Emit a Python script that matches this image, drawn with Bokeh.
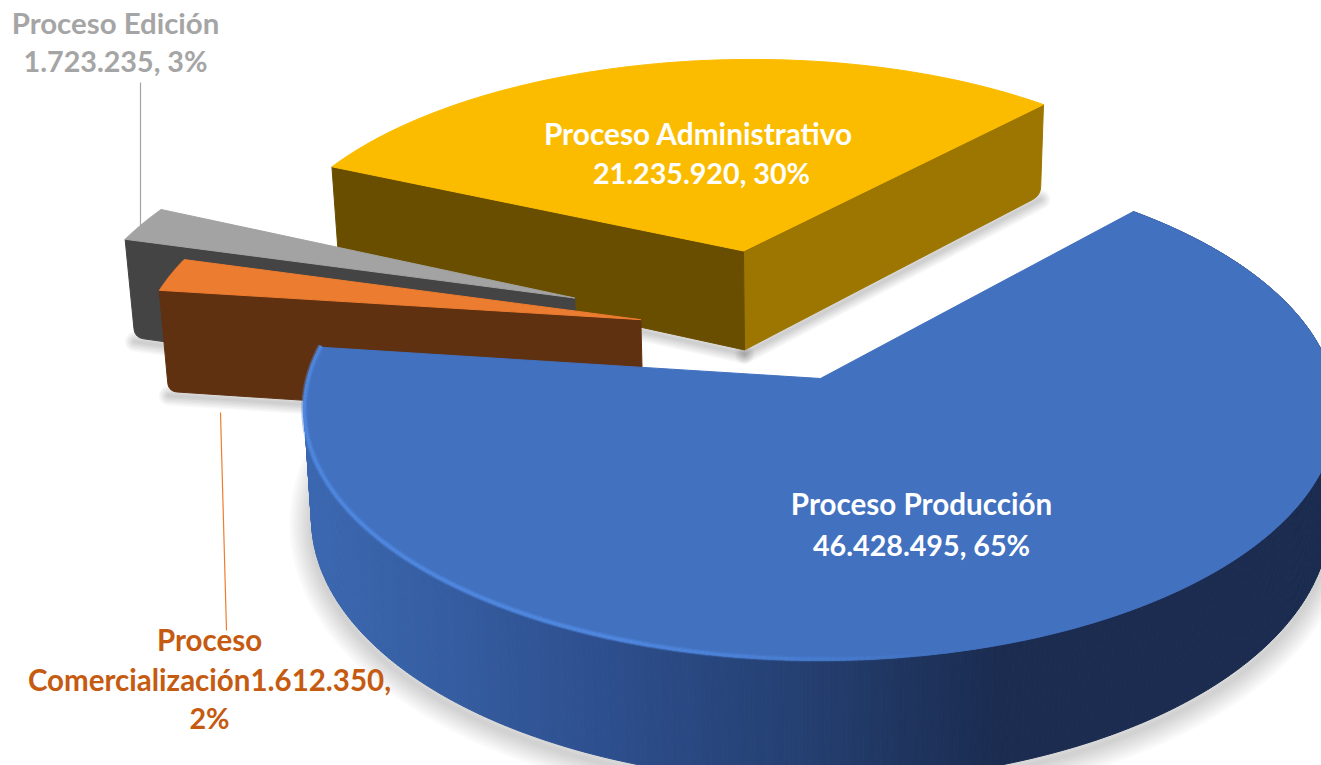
import numpy as np
from bokeh.plotting import figure
from bokeh.models import Range1d, ColumnDataSource
from bokeh.core.properties import value
from bokeh.embed import file_html
from bokeh.resources import INLINE

# ---- data -----------------------------------------------------------------
categories = ["Proceso Producción", "Proceso Comercialización", "Proceso Edición", "Proceso Administrativo"]
values = [46428495, 1612350, 1723235, 21235920]
percents = [65, 2, 3, 30]
explode = [0.221, 0.283, 0.443, 0.373]
top_colors = ["#4271C0", "#EC7C30", "#A3A3A3", "#FBBC00"]
wall_colors = ["#365FA3", "#5F3111", "#444444", "#6A4E00"]
start_deg = -48.0

# ---- projection of the pie disc to the page --------------------------------
CX, CY, R, RS, K, H = 820.0, 378.0, 512.0, 246.0, 0.128, 106.0
SHRINK = 0.986
BLUE_SHIFT = (0.008, -0.017)


def fmt(v):
    return f"{v:,}".replace(",", ".")


def project(u, v):
    w = 1 - K * v
    return CX + R * u / w, CY + RS * v / w


def drop(x, y, v):
    w = 1 - K * v
    return CX + (x - CX) * SHRINK, y + H / w


total = sum(values)
spans = [360.0 * a / total for a in values]
starts = np.cumsum([start_deg] + spans[:-1])
slices = []
for i in range(len(values)):
    a0, a1 = starts[i], starts[i] + spans[i]
    mid = np.radians((a0 + a1) / 2)
    slices.append((a0, a1, explode[i] * np.cos(mid), explode[i] * np.sin(mid)))
base_du, base_dv = slices[0][2], slices[0][3]


def outline(i, n=160):
    a0, a1, du, dv = slices[i]
    du, dv = du - base_du, dv - base_dv
    if i != 0:
        du, dv = du - BLUE_SHIFT[0], dv - BLUE_SHIFT[1]
    th = np.radians(np.linspace(a0, a1, n))
    return np.r_[du, du + np.cos(th)], np.r_[dv, dv + np.sin(th)]


def round_corner(px, py, idx, r):
    """Replace the corner at idx of a closed polygon by a short curve."""
    out_x, out_y = [], []
    n = len(px)
    for k in range(n):
        if k != idx:
            out_x.append(px[k])
            out_y.append(py[k])
            continue
        a = np.array([px[k - 1], py[k - 1]], float)
        b = np.array([px[k], py[k]], float)
        c = np.array([px[(k + 1) % n], py[(k + 1) % n]], float)
        s = b + (a - b) / np.linalg.norm(a - b) * r
        e = b + (c - b) / np.linalg.norm(c - b) * r
        for t in np.linspace(0, 1, 8):
            q = (1 - t) ** 2 * s + 2 * t * (1 - t) * b + t ** 2 * e
            out_x.append(q[0])
            out_y.append(q[1])
    return out_x, out_y


p = figure(width=1321, height=765, output_backend="svg", toolbar_location=None,
           x_range=Range1d(0, 1321), y_range=Range1d(765, 0), min_border=0)
p.axis.visible = False
p.grid.visible = False
p.outline_line_color = None
p.background_fill_color = "white"
p.border_fill_color = "white"


def soft_line(x, y, max_w=26, steps=7, dy=5, alpha=0.028):
    for s in range(steps):
        w = max_w * (steps - s) / steps
        p.line(list(x), list(np.asarray(y) + dy), line_color="#000000", line_alpha=alpha,
               line_width=w, line_cap="round", line_join="round")


def flat_slice(i, dark, light=None):
    u, v = outline(i)
    x, y = project(u, v)
    bx, by = drop(x, y, v)
    # wall from the apex to the first rim point
    wx, wy = round_corner([x[0], x[1], bx[1], bx[0]], [y[0], y[1], by[1], by[0]], 2, 9)
    soft_line([bx[1], bx[0]], [by[1], by[0]], max_w=20, dy=4)
    if light:
        lx, ly = round_corner([x[-1], x[0], bx[0], bx[-1]], [y[-1], y[0], by[0], by[-1]], 3, 9)
        soft_line([bx[0], bx[-1]], [by[0], by[-1]], max_w=20, dy=4)
        p.patch(lx, ly, fill_color=light, line_color=light, line_width=1)
    p.patch(wx, wy, fill_color=dark, line_color=dark, line_width=1)
    p.patch(x, y, fill_color=top_colors[i], line_color=top_colors[i], line_width=1, line_join="round")


# yellow, grey and orange slices, from back to front
flat_slice(3, wall_colors[3], "#9C7600")
flat_slice(2, wall_colors[2])
flat_slice(1, wall_colors[1])

# blue slice: shadow, shaded outer wall, top face, highlight
u, v = outline(0, n=420)
x, y = project(u, v)
bx, by = drop(x, y, v)
rx, ry, rbx, rby = x[1:], y[1:], bx[1:], by[1:]
low = rby > 400
soft_line(rbx[low], rby[low], max_w=44, steps=9, dy=6, alpha=0.02)
stop_x = [300, 430, 580, 800, 1000, 1330]
stop_r = [0x3D, 0x36, 0x2F, 0x25, 0x1B, 0x1B]
stop_g = [0x69, 0x5F, 0x51, 0x40, 0x2C, 0x2C]
stop_b = [0xB2, 0xA3, 0x91, 0x72, 0x50, 0x50]
xs, ys, cols = [], [], []
for j in range(len(rx) - 1):
    xm = (rx[j] + rx[j + 1]) / 2
    c = "#%02x%02x%02x" % (int(np.interp(xm, stop_x, stop_r)), int(np.interp(xm, stop_x, stop_g)),
                           int(np.interp(xm, stop_x, stop_b)))
    xs.append([rx[j], rx[j + 1], rbx[j + 1], rbx[j]])
    ys.append([ry[j], ry[j + 1], rby[j + 1], rby[j]])
    cols.append(c)
p.patches("xs", "ys", source=ColumnDataSource(dict(xs=xs, ys=ys, c=cols)),
          fill_color="c", line_color="c", line_width=1)
p.patch(x, y, fill_color=top_colors[0], line_color=top_colors[0], line_width=1, line_join="round")

# bevel highlight along the left and front of the rim, soft on both sides
hx, hy, ha = [], [], []
for j in range(len(rx) - 1):
    xm = (rx[j] + rx[j + 1]) / 2
    if xm < 950 and ry[j] > 345:
        hx.append([rx[j], rx[j + 1]])
        hy.append([ry[j] - 1.5, ry[j + 1] - 1.5])
        ha.append(float(np.clip((950 - xm) / 350, 0, 1)))
ha2 = [a * 0.45 for a in ha]
src = ColumnDataSource(dict(hx=hx, hy=hy, a=ha, b=ha2))
p.multi_line("hx", "hy", source=src, line_color="#4F87DE", line_width=6, line_alpha="b")
p.multi_line("hx", "hy", source=src, line_color="#4F87DE", line_width=3, line_alpha="a")

# leader lines
p.line([140, 140], [82, 228], line_color="#A5A5A5", line_width=1.2)
p.line([220, 226], [412, 630], line_color="#ED7D31", line_width=1.2)

# labels
rows = [
    (categories[0], 921, 503, "white", "29.6px"),
    (f"{fmt(values[0])}, {percents[0]}%", 921, 544, "white", "28.7px"),
    (categories[3], 698, 133, "white", "29.8px"),
    (f"{fmt(values[3])}, {percents[3]}%", 701, 172, "white", "28.7px"),
    (categories[2], 115, 22, "#A5A5A5", "29.4px"),
    (f"{fmt(values[2])}, {percents[2]}%", 115, 60, "#A5A5A5", "28.7px"),
    ("Proceso", 209, 639, "#C55A11", "29.5px"),
    (f"Comercialización{fmt(values[1])},", 209, 679, "#C55A11", "29.5px"),
    (f"{percents[1]}%", 209, 717, "#C55A11", "28.7px"),
]
for t, tx, ty, c, size in rows:
    p.text([tx], [ty], text=[t], text_color=c, text_font=value("Lato"), text_font_style="bold",
           text_font_size=size, text_align="center", text_baseline="middle")

open("out.html", "w").write(file_html(p, INLINE))
